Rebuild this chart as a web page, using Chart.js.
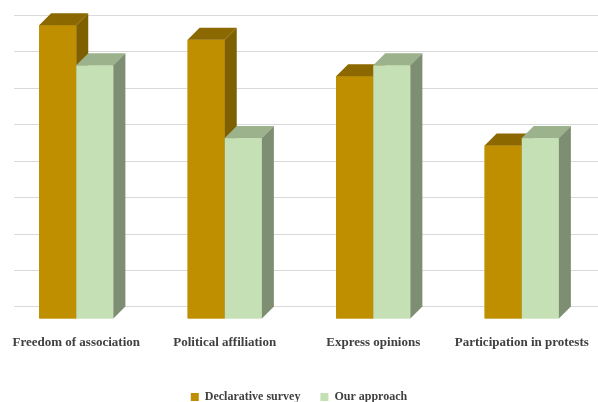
<!DOCTYPE html>
<html>
<head>
<meta charset="utf-8">
<script src="https://cdn.jsdelivr.net/npm/chart.js@4.4.0/dist/chart.umd.min.js"></script>
<style>
  html, body { margin: 0; padding: 0; background: #fff; overflow: hidden; }
  #wrap { width: 598px; height: 413px; }
</style>
</head>
<body>
<div id="wrap"><canvas id="chart"></canvas></div>
<script>
// Chart data
const categories = ['Freedom of association', 'Political affiliation', 'Express opinions', 'Participation in protests'];
const declarativeSurvey = [80.5, 76.5, 66.5, 47.5];
const ourApproach = [69.5, 49.5, 69.5, 49.5];
const seriesNames = ['Declarative survey', 'Our approach'];

// 3D extrusion depth in pixels
const DX = 12;
const DY = 12;

// face colours: front, top, side
const faceColors = [
  { front: '#BF8F00', top: '#8C6900', side: '#7F6000' },
  { front: '#C5E0B4', top: '#9BB28C', side: '#7E8E72' }
];

const serif = '"Liberation Serif", "Times New Roman", serif';

// Back-wall gridlines, offset by the depth
const backGrid = {
  id: 'backGrid',
  beforeDatasetsDraw(chart) {
    const { ctx, chartArea, scales } = chart;
    const y = scales.y;
    ctx.save();
    ctx.strokeStyle = '#D9D9D9';
    ctx.lineWidth = 1;
    y.ticks.forEach(t => {
      const py = Math.round(y.getPixelForValue(t.value) - DY) + 0.5;
      ctx.beginPath();
      ctx.moveTo(chartArea.left + DX, py);
      ctx.lineTo(chart.width, py);
      ctx.stroke();
    });
    ctx.restore();
  }
};

// Redraw every bar as a box (front, top, side), series in index order,
// so the second series' front face covers the first one's side
const bars3d = {
  id: 'bars3d',
  afterDatasetsDraw(chart) {
    const { ctx } = chart;
    ctx.save();
    chart.data.datasets.forEach((ds, i) => {
      const col = faceColors[i];
      chart.getDatasetMeta(i).data.forEach(bar => {
        const l = bar.x - bar.width / 2;
        const r = bar.x + bar.width / 2;
        const t = bar.y;
        const b = bar.base;
        ctx.fillStyle = col.front;
        ctx.fillRect(l, t, r - l, b - t);
        ctx.fillStyle = col.top;
        ctx.beginPath();
        ctx.moveTo(l, t);
        ctx.lineTo(l + DX, t - DY);
        ctx.lineTo(r + DX, t - DY);
        ctx.lineTo(r, t);
        ctx.closePath();
        ctx.fill();
        ctx.fillStyle = col.side;
        ctx.beginPath();
        ctx.moveTo(r, t);
        ctx.lineTo(r + DX, t - DY);
        ctx.lineTo(r + DX, b - DY);
        ctx.lineTo(r, b);
        ctx.closePath();
        ctx.fill();
      });
    });
    ctx.restore();
  }
};

const ctx = document.getElementById('chart').getContext('2d');
new Chart(ctx, {
  type: 'bar',
  data: {
    labels: categories,
    datasets: [
      {
        label: seriesNames[0],
        data: declarativeSurvey,
        backgroundColor: faceColors[0].front,
        clip: false
      },
      {
        label: seriesNames[1],
        data: ourApproach,
        backgroundColor: faceColors[1].front,
        clip: false
      }
    ]
  },
  options: {
    responsive: true,
    maintainAspectRatio: false,
    animation: false,
    layout: { padding: { top: 27, left: 2, right: 2, bottom: 0 } },
    datasets: {
      bar: { categoryPercentage: 0.5, barPercentage: 1.0 }
    },
    scales: {
      x: {
        grid: { display: false },
        border: { display: false },
        afterFit(scale) { scale.height += 13; },
        ticks: {
          autoSkip: false,
          maxRotation: 0,
          padding: 8,
          color: '#404040',
          font: { family: serif, size: 13, weight: 'bold' }
        }
      },
      y: {
        display: false,
        min: 0,
        max: 80,
        ticks: { stepSize: 10 }
      }
    },
    plugins: {
      legend: {
        position: 'bottom',
        labels: {
          boxWidth: 8,
          boxHeight: 8,
          padding: 20,
          color: '#404040',
          font: { family: serif, size: 12, weight: 'bold' }
        }
      },
      tooltip: { enabled: false }
    }
  },
  plugins: [backGrid, bars3d]
});
</script>
</body>
</html>
